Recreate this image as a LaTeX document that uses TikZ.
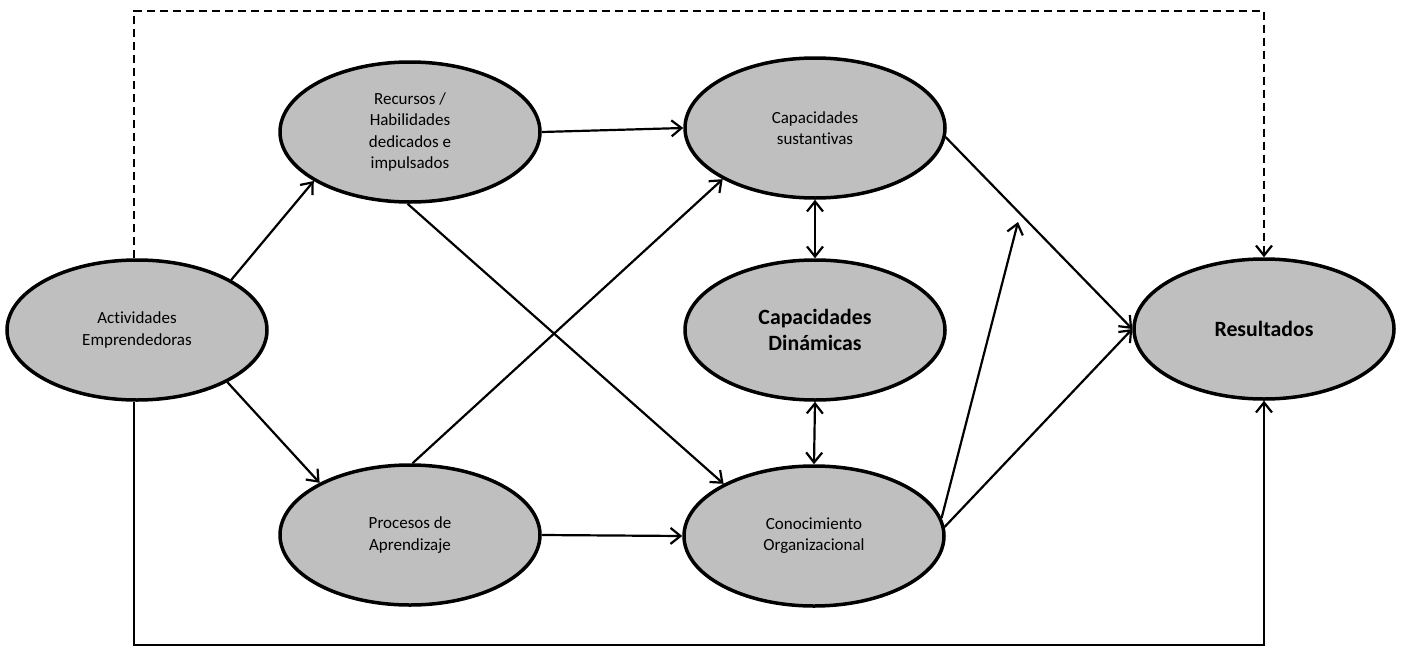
\documentclass[tikz,border=0pt]{standalone}
\usepackage{fontspec}
\setmainfont{Carlito}[Ligatures=NoCommon]
\usetikzlibrary{shapes.geometric,arrows.meta}
\definecolor{ovalgray}{RGB}{191,191,191}
\begin{document}
\begin{tikzpicture}[x=0.5pt,y=-0.5pt,
  barb/.tip={Straight Barb[length=5pt,width=8pt,line width=1.1pt]},
  oval/.style={ellipse, draw, line width=1.75pt, fill=ovalgray,
    minimum width=130pt, minimum height=70pt, inner sep=0pt, align=center,
    font=\fontsize{8.5}{10.6}\selectfont},
  key/.style={font=\fontsize{10.9}{13.4}\selectfont\bfseries},
  link/.style={line width=1.1pt, -barb},
  twoway/.style={line width=1.1pt, barb-barb},
  dashlink/.style={line width=1.3pt, dash pattern=on 4.2pt off 2.3pt, -barb}
]
\useasboundingbox (0,0) rectangle (1403,648);

% constructs
\node[oval] (ae) at (137,330) {Actividades\\Emprendedoras};
\node[oval] (rh) at (410,132) {Recursos /\\Habilidades\\dedicados e\\impulsados};
\node[oval] (pa) at (410,535) {Procesos de\\Aprendizaje};
\node[oval] (cs) at (815,128) {Capacidades\\sustantivas};
\node[oval,key] (cd) at (815,330) {Capacidades\\Dinámicas};
\node[oval] (co) at (814,536) {Conocimiento\\Organizacional};
\node[oval,key] (re) at (1264,329) {Resultados};

% frame corners and free end
\coordinate (tl) at (134,11);
\coordinate (bl) at (134,645);
\coordinate (free) at (1018,222);

% paths between constructs
\draw[link] (ae.28) -- (rh.207);
\draw[link] (ae.-30) -- (pa.150);
\draw[link] (rh.east) -- (cs.west);
\draw[link] (rh.-92) -- (co.150);
\draw[link] (pa.88) -- (cs.209);
\draw[link] (pa.east) -- (co.west);
\draw[twoway] (cs.south) -- (cd.north);
\draw[twoway] (cd.south) -- (co.north);
\draw[link] (cs.-4) -- (re.west);
\draw[link] (co.4) -- (re.west);
\draw[link] (co.8) -- (free);

% outer paths to results
\draw[dashlink] (ae.north -| tl) -- (tl) -| (re.north);
\draw[link] (ae.south -| bl) -- (bl) -| (re.south);
\end{tikzpicture}
\end{document}
